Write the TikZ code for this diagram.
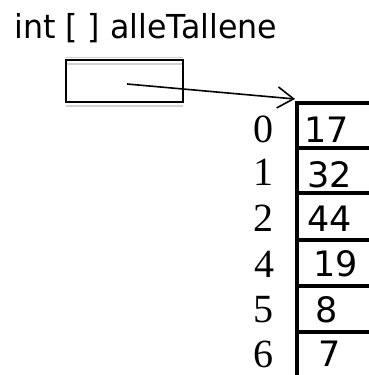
\documentclass[tikz,border=0pt]{standalone}
\usepackage{fontspec}
\setmainfont{Liberation Serif}
\newfontfamily\labelfont{DejaVu Sans}
\newfontfamily\titlefont[FakeStretch=0.96]{DejaVu Sans}
\usetikzlibrary{arrows.meta}
\begin{document}
\begin{tikzpicture}[x=1pt,y=-1pt,
  title/.style={font=\titlefont\fontsize{33}{38}\selectfont, inner sep=0pt, anchor=base west},
  val/.style={font=\labelfont\fontsize{35}{40}\selectfont, inner sep=0pt},
  idx/.style={font=\fontsize{40}{44}\selectfont, inner sep=0pt},
  gridline/.style={line width=3.2pt},
  shade/.style={black!18, line width=1.5pt},
  refbox/.style={draw, line width=2pt, minimum width=117pt, minimum height=42pt, inner sep=0pt},
  pointer/.style={line width=1.6pt, -{Straight Barb[length=16pt,width=21pt,line width=1.6pt]}}]
\useasboundingbox (0,0) rectangle (369,375);

% variable name
\node[title] (title) at (14,38) {int [ ] alleTallene};

% reference variable box with its faint shading
\draw[shade] (66,57.5) -- (183,57.5);
\draw[shade] (67,64) -- (182,64);
\draw[shade] (66,106) -- (183,106);
\node[refbox] (ref) at (124.5,81) {};

% array cells
\coordinate (arrtop) at (297,103);
\coordinate (arrbot) at (297,375);
\draw[gridline] (arrtop) -- (arrbot);
\foreach \y in {103,148,193,240,286,332}
  \draw[gridline] (295.4,\y) -- (369,\y);

% pointer from the variable to the array
\coordinate (start) at (127,84);
\coordinate (tip) at (295,99);
\draw[pointer] (start) -- (tip);

% indices
\node[idx] (i0) at (263,129) {0};
\node[idx] (i1) at (263,172) {1};
\node[idx] (i2) at (263,218) {2};
\node[idx] (i4) at (264,264) {4};
\node[idx] (i5) at (263,310) {5};
\node[idx] (i6) at (263,354) {6};

% values
\node[val] (v0) at (327,130) {17};
\node[val] (v1) at (330,175) {32};
\node[val] (v2) at (330,219) {44};
\node[val] (v4) at (336,264) {19};
\node[val] (v5) at (327,310) {8};
\node[val] (v6) at (330,354) {7};
\end{tikzpicture}
\end{document}
